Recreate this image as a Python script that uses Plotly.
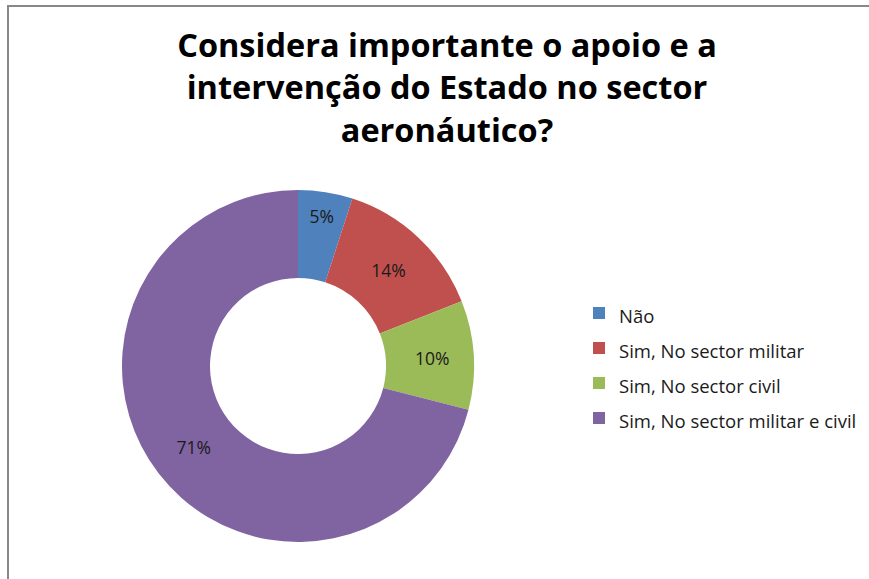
import plotly.graph_objects as go

title_lines = ["Considera importante o apoio e a", "intervenção do Estado no sector", "aeronáutico?"]
labels = ["Não", "Sim, No sector militar", "Sim, No sector civil", "Sim, No sector militar e civil"]
values = [5, 14, 10, 71]
colors = ["#4F81BD", "#C0504D", "#9BBB59", "#8064A2"]

W, H = 869, 579
cx, cy, r = 298, 366, 176

fig = go.Figure(go.Pie(
    labels=[f'<span style="font-size:18.5px">{l}</span>' for l in labels],
    values=values,
    hole=0.5,
    sort=False,
    direction="clockwise",
    rotation=0,
    marker=dict(colors=colors, line=dict(color="white", width=0)),
    textinfo="percent",
    texttemplate="%{percent:.0%}",
    textposition="inside",
    insidetextorientation="horizontal",
    textfont=dict(family="Open Sans", size=17.5, color="#1a1a1a"),
    domain=dict(x=[(cx - r) / W, (cx + r) / W], y=[1 - (cy + r) / H, 1 - (cy - r) / H]),
))

fig.update_layout(
    width=W, height=H,
    margin=dict(l=0, r=0, t=0, b=0),
    paper_bgcolor="white",
    title=dict(
        text="<br>".join(title_lines),
        font=dict(family="Open Sans", size=32.5, color="black", weight="bold"),
        x=447 / W, xanchor="center",
        y=1 - 57 / H, yanchor="top", yref="container",
    ),
    legend=dict(
        x=579 / W, xanchor="left",
        y=1 - 365.5 / H, yanchor="middle",
        font=dict(family="Open Sans", size=24.6, color="#1a1a1a"),
        bgcolor="rgba(0,0,0,0)",
    ),
    showlegend=True,
    shapes=[dict(type="rect", xref="paper", yref="paper",
                 x0=8 / W, x1=1.02, y0=-0.02, y1=1 - 6 / H,
                 line=dict(color="#888888", width=2))],
)

fig.write_html("out.html")
